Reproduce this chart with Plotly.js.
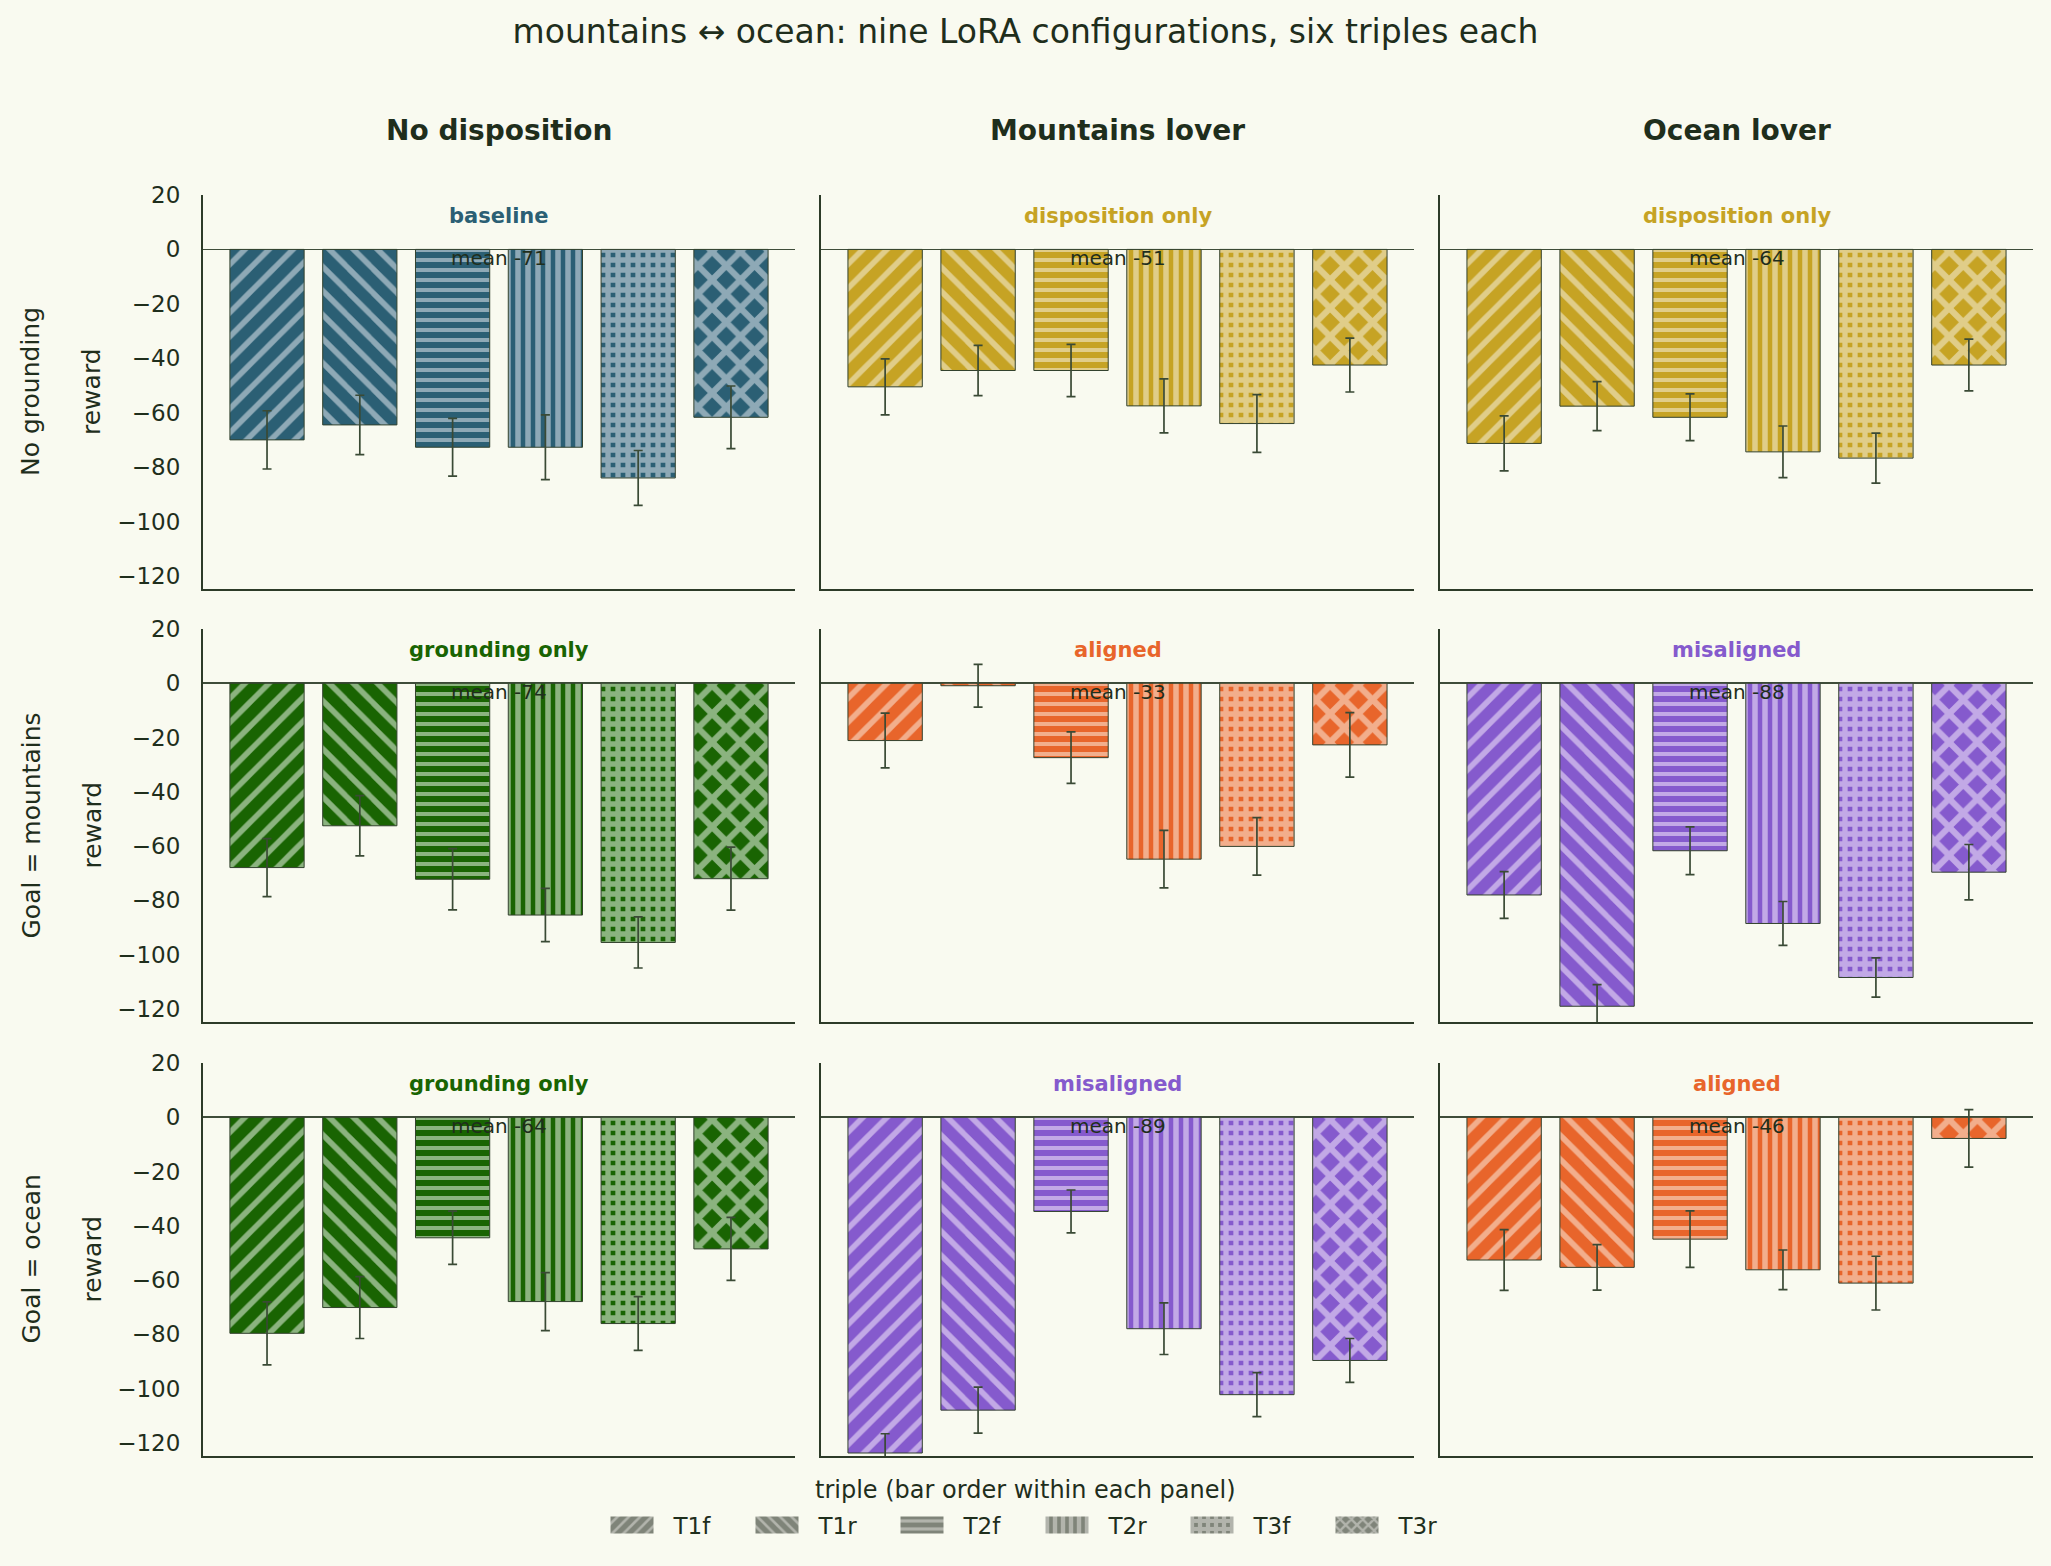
<!DOCTYPE html>
<html>
<head>
<meta charset="utf-8">
<script src="https://cdn.plot.ly/plotly-3.0.1.min.js"></script>
<style>
  html, body { margin: 0; padding: 0; background: #f9faf0; }
  #chart { width: 2051px; height: 1566px; }
</style>
</head>
<body>
<div id="chart"></div>
<script>
// ---- data ---------------------------------------------------------------
const triples = ["T1f", "T1r", "T2f", "T2r", "T3f", "T3r"];
const dispositions = ["No disposition", "Mountains lover", "Ocean lover"];
const groundings = ["No grounding", "Goal = mountains", "Goal = ocean"];
const configKinds = [
  ["baseline", "disposition only", "disposition only"],
  ["grounding only", "aligned", "misaligned"],
  ["grounding only", "misaligned", "aligned"]
];

// mean reward per triple, and its error, for each LoRA configuration
const noGroundNoDisp      = [-70.0, -64.5, -72.7, -72.7, -84.0, -61.7];
const noGroundNoDispErr   = [10.7, 10.9, 10.6, 11.9, 10.1, 11.5];
const noGroundMountains   = [-50.5, -44.5, -44.5, -57.5, -64.0, -42.5];
const noGroundMountainsErr= [10.3, 9.2, 9.6, 9.9, 10.6, 9.9];
const noGroundOcean       = [-71.3, -57.6, -61.7, -74.4, -76.7, -42.5];
const noGroundOceanErr    = [10.1, 9.0, 8.6, 9.5, 9.2, 9.5];

const goalMtnNoDisp       = [-67.9, -52.5, -72.2, -85.4, -95.5, -72.0];
const goalMtnNoDispErr    = [10.7, 11.1, 11.3, 9.8, 9.4, 11.6];
const goalMtnMountains    = [-21.1, -0.9, -27.4, -64.8, -60.1, -22.7];
const goalMtnMountainsErr = [10.1, 7.9, 9.5, 10.6, 10.6, 11.9];
const goalMtnOcean        = [-78.0, -119.0, -61.7, -88.5, -108.4, -69.6];
const goalMtnOceanErr     = [8.6, 8.0, 8.8, 8.1, 7.2, 10.2];

const goalOceanNoDisp       = [-79.6, -70.1, -44.4, -67.9, -76.0, -48.5];
const goalOceanNoDispErr    = [11.6, 11.4, 9.8, 10.7, 9.9, 11.6];
const goalOceanMountains    = [-123.7, -107.9, -34.7, -77.9, -102.2, -89.6];
const goalOceanMountainsErr = [7.1, 8.5, 7.9, 9.5, 8.1, 8.1];
const goalOceanOcean        = [-52.6, -55.3, -44.9, -56.2, -61.1, -7.8];
const goalOceanOceanErr     = [11.2, 8.4, 10.4, 7.3, 9.9, 10.6];

const panelValues = [
  [noGroundNoDisp, noGroundMountains, noGroundOcean],
  [goalMtnNoDisp, goalMtnMountains, goalMtnOcean],
  [goalOceanNoDisp, goalOceanMountains, goalOceanOcean]
];
const panelErrors = [
  [noGroundNoDispErr, noGroundMountainsErr, noGroundOceanErr],
  [goalMtnNoDispErr, goalMtnMountainsErr, goalMtnOceanErr],
  [goalOceanNoDispErr, goalOceanMountainsErr, goalOceanOceanErr]
];

// ---- styles -------------------------------------------------------------
const W = 2051, H = 1566;
const FONT = "DejaVu Sans";
const BG = "#f9faf0";
const INK = "#1f2e1c";
const SPINE = "#2d3b28";
const ERR = "#3a4a35";
const kindColors = {
  "baseline":         { dark: "#2b5f74", light: "#8ea9b6" },
  "disposition only": { dark: "#c6a324", light: "#e0cd89" },
  "grounding only":   { dark: "#196402", light: "#8bb37f" },
  "aligned":          { dark: "#e8652b", light: "#f2ae8c" },
  "misaligned":       { dark: "#855acd", light: "#c2a9e6" }
};
const legendColors = { dark: "#7f8479", light: "#b2b4ac" };
const hatchShape    = ["/", "\\", "-", "|", "+", "x"];
const hatchSize     = [17, 17, 10, 10, 10, 20];
const hatchSolidity = [0.33, 0.33, 0.4, 0.55, 0.78, 0.52];

// panel placement in figure pixels
const colPx = [[203, 795], [821, 1414], [1440, 2033]];
const rowPx = [[195, 589], [629, 1022], [1063, 1456]];

const traces = [];
const annotations = [];
const layout = {
  width: W, height: H,
  margin: { l: 0, r: 0, t: 0, b: 0 },
  paper_bgcolor: BG, plot_bgcolor: BG,
  font: { family: FONT, color: INK, size: 23 },
  barmode: "overlay",
  bargap: 0.2,
  showlegend: true,
  title: {
    text: "mountains \u2194 ocean: nine LoRA configurations, six triples each",
    font: { family: FONT, size: 33, color: INK },
    x: 0.5, xanchor: "center", xref: "paper",
    y: 1 - 31 / H, yanchor: "middle", yref: "container"
  },
  legend: {
    orientation: "h",
    x: 0.5, xanchor: "center",
    y: 1 - 1525 / H, yanchor: "middle",
    bgcolor: "rgba(0,0,0,0)",
    font: { family: FONT, size: 23, color: INK },
    itemwidth: 73,
    entrywidth: 57, entrywidthmode: "pixels",
    traceorder: "normal"
  },
  annotations: annotations
};

// heading above the legend row
annotations.push({
  text: "triple (bar order within each panel)",
  xref: "paper", x: 0.5, xanchor: "center",
  yref: "paper", y: 1 - 1490 / H, yanchor: "middle",
  showarrow: false,
  font: { family: FONT, size: 24, color: INK }
});

for (let r = 0; r < 3; r++) {
  for (let c = 0; c < 3; c++) {
    const k = r * 3 + c + 1;
    const xa = k === 1 ? "x" : "x" + k;
    const ya = k === 1 ? "y" : "y" + k;
    const kind = configKinds[r][c];
    const col = kindColors[kind];
    const vals = panelValues[r][c];
    const errs = panelErrors[r][c];

    traces.push({
      type: "bar",
      x: triples, y: vals,
      xaxis: xa, yaxis: ya,
      showlegend: false,
      hoverinfo: "x+y",
      marker: {
        color: col.dark,
        line: { color: "#33422e", width: 1 },
        pattern: {
          shape: hatchShape, size: hatchSize, solidity: hatchSolidity,
          bgcolor: col.dark, fgcolor: col.light, fgopacity: 1, fillmode: "replace"
        }
      },
      error_y: { type: "data", array: errs, visible: true, color: ERR, thickness: 1.7, width: 4.5 }
    });

    layout["xaxis" + (k === 1 ? "" : k)] = {
      domain: [colPx[c][0] / W, colPx[c][1] / W],
      anchor: ya,
      type: "category",
      range: [-0.69, 5.69],
      showline: true, linecolor: SPINE, linewidth: 2,
      showticklabels: false, ticks: "", showgrid: false, zeroline: false,
      fixedrange: true
    };
    layout["yaxis" + (k === 1 ? "" : k)] = {
      domain: [1 - rowPx[r][1] / H, 1 - rowPx[r][0] / H],
      anchor: xa,
      range: [-124.8, 20],
      tickvals: [-120, -100, -80, -60, -40, -20, 0, 20],
      showticklabels: c === 0,
      tickfont: { family: FONT, size: 23, color: INK },
      ticks: "", ticklabelstandoff: 16,
      showline: true, linecolor: SPINE, linewidth: 2,
      showgrid: false,
      zeroline: true, zerolinecolor: "#3f4d3a", zerolinewidth: 1.6,
      fixedrange: true
    };

    // configuration name inside the panel
    annotations.push({
      text: "<b>" + kind + "</b>",
      xref: xa + " domain", x: 0.5, xanchor: "center",
      yref: ya + " domain", y: 0.947, yanchor: "middle",
      showarrow: false,
      font: { family: FONT, size: 21, color: col.dark }
    });

    // panel mean under the zero line
    const mean = vals.reduce((a, b) => a + b, 0) / vals.length;
    annotations.push({
      text: "mean " + Math.round(mean),
      xref: xa + " domain", x: 0.5, xanchor: "center",
      yref: ya, y: 0, yanchor: "top", yshift: 5,
      showarrow: false,
      font: { family: FONT, size: 20, color: INK }
    });

    if (r === 0) {
      annotations.push({
        text: "<b>" + dispositions[c] + "</b>",
        xref: xa + " domain", x: 0.5, xanchor: "center",
        yref: "paper", y: 1 - 131 / H, yanchor: "middle",
        showarrow: false,
        font: { family: FONT, size: 28, color: INK }
      });
    }
    if (c === 0) {
      annotations.push({
        text: groundings[r], textangle: -90,
        xref: "paper", x: 31 / W, xanchor: "center",
        yref: ya + " domain", y: 0.5, yanchor: "middle",
        showarrow: false,
        font: { family: FONT, size: 25, color: INK }
      });
      annotations.push({
        text: "reward", textangle: -90,
        xref: "paper", x: 92 / W, xanchor: "center",
        yref: ya + " domain", y: 0.5, yanchor: "middle",
        showarrow: false,
        font: { family: FONT, size: 25, color: INK }
      });
    }
  }
}

// legend entries: one neutral swatch per triple
triples.forEach((t, i) => {
  traces.push({
    type: "bar",
    x: [t], y: [null],
    xaxis: "x", yaxis: "y",
    name: t,
    showlegend: true,
    hoverinfo: "skip",
    marker: {
      color: legendColors.dark,
      line: { width: 0 },
      pattern: {
        shape: hatchShape[i], size: hatchSize[i], solidity: hatchSolidity[i],
        bgcolor: legendColors.dark, fgcolor: legendColors.light, fgopacity: 1, fillmode: "replace"
      }
    }
  });
});

Plotly.newPlot("chart", traces, layout, { displayModeBar: false, staticPlot: true }).then(gd => {
  // wider legend swatches
  gd.querySelectorAll(".legend .legendpoints path").forEach(p => {
    p.setAttribute("d", "M21.5,8.5H-21.5V-8.5H21.5Z");
  });
});
</script>
</body>
</html>
